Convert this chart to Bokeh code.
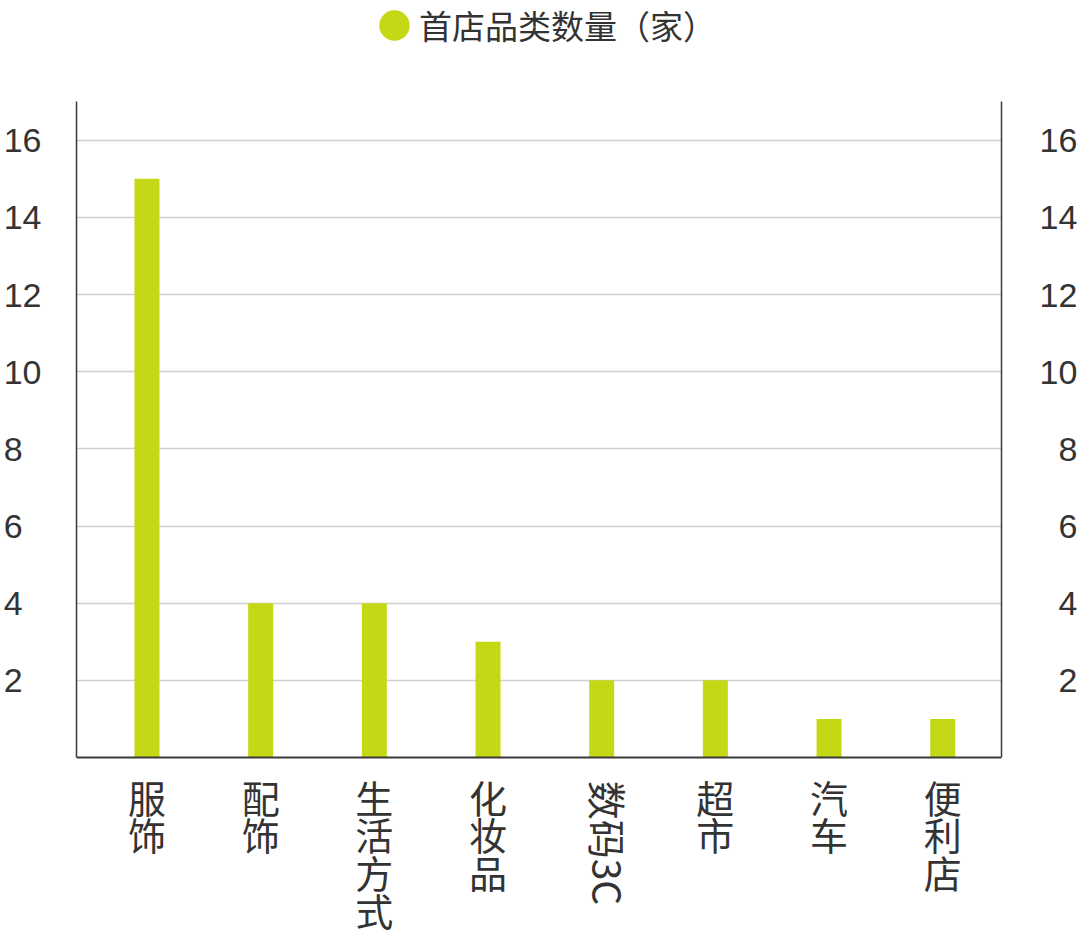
import math
from bokeh.plotting import figure
from bokeh.models import Range1d, FixedTicker, LinearAxis, Legend, LegendItem, Label
from bokeh.embed import file_html
from bokeh.resources import INLINE

# ---- data ----
categories = ["服饰", "配饰", "生活方式", "化妆品", "数码3C", "超市", "汽车", "便利店"]
counts = [15, 4, 4, 3, 2, 2, 1, 1]
y_ticks = [2, 4, 6, 8, 10, 12, 14, 16]
y_axis_max = 17
series_name = "首店品类数量（家）"
rotated_category = "数码3C"

# ---- styles ----
GREEN = "#c5d815"
TEXT = "#333333"
AXIS = "#3a3a3a"
GRID = "#d0d0d0"
FIGSP = "\u2007"
NUM_FONT = "Liberation Sans"
CJK_FONT = "Noto Sans CJK SC"
XL_SIZE = 38

idx = list(range(len(categories)))

# frame covers the full height; value axes are limited with bounds
p = figure(width=1080, height=937, output_backend="svg", toolbar_location=None,
           x_range=Range1d(-0.62, 7.517), y_range=Range1d(-4.665, 19.62),
           min_border_left=76, min_border_right=78, min_border_top=0,
           min_border_bottom=0)
p.outline_line_color = None
p.background_fill_color = "white"
p.border_fill_color = "white"

# bars
bars = p.vbar(x=idx, top=counts, width=0.22, fill_color=GREEN, line_color=None)

# y axes (left + right)
def style_y(ax, left=True):
    ax.ticker = FixedTicker(ticks=y_ticks)
    ax.bounds = (0, y_axis_max)
    if left:
        ax.major_label_overrides = {t: (str(t) if t >= 10 else str(t) + FIGSP) for t in y_ticks}
    else:
        ax.major_label_overrides = {t: (str(t) if t >= 10 else FIGSP + str(t)) for t in y_ticks}
    ax.major_tick_out = 0
    ax.major_tick_in = 0
    ax.minor_tick_out = 0
    ax.minor_tick_in = 0
    ax.major_label_text_font = NUM_FONT
    ax.major_label_text_font_size = "34px"
    ax.major_label_text_color = TEXT
    ax.axis_line_color = AXIS
    ax.axis_line_width = 1.5

yl = p.yaxis[0]
style_y(yl, True)
yl.major_label_standoff = 35

yr = LinearAxis()
style_y(yr, False)
yr.major_label_standoff = 38
p.add_layout(yr, "right")

p.ygrid.ticker = FixedTicker(ticks=y_ticks)
p.ygrid.grid_line_color = GRID
p.ygrid.grid_line_width = 1.5
p.xgrid.visible = False

# x axis at y = 0: stacked (vertical) category names
xa = p.xaxis[0]
xa.fixed_location = 0
xa.ticker = FixedTicker(ticks=idx)
xa.major_label_overrides = {
    i: ("" if c == rotated_category else "\n".join(c)) for i, c in zip(idx, categories)
}
xa.major_tick_out = 0
xa.major_tick_in = 0
xa.minor_tick_out = 0
xa.minor_tick_in = 0
xa.major_label_text_font = CJK_FONT
xa.major_label_text_font_size = f"{XL_SIZE}px"
xa.major_label_text_color = TEXT
xa.major_label_text_line_height = 0.69
xa.major_label_standoff = 11
xa.axis_line_color = AXIS
xa.axis_line_width = 2

# rotated category name (reads top to bottom)
rot_i = categories.index(rotated_category)
p.add_layout(Label(x=idx[rot_i], y=-0.6, x_offset=7, text=rotated_category,
                   angle=-math.pi / 2, text_align="left", text_baseline="middle",
                   text_font=CJK_FONT, text_font_size="39px", text_color=TEXT))

# legend (round marker) at the top; the marker itself has no data position
dot = p.ellipse(x=[float("nan")], y=[float("nan")], width=30, height=30,
                width_units="screen", height_units="screen",
                fill_color=GREEN, line_color=None)
legend = Legend(items=[LegendItem(label=series_name, renderers=[dot])],
                location=(299, 888), glyph_width=38, glyph_height=38,
                label_standoff=6, padding=0, margin=0,
                border_line_color=None, background_fill_alpha=0,
                label_text_font=CJK_FONT, label_text_font_size="33px",
                label_text_color=TEXT)
p.add_layout(legend)

open("out.html", "w").write(file_html(p, INLINE))
